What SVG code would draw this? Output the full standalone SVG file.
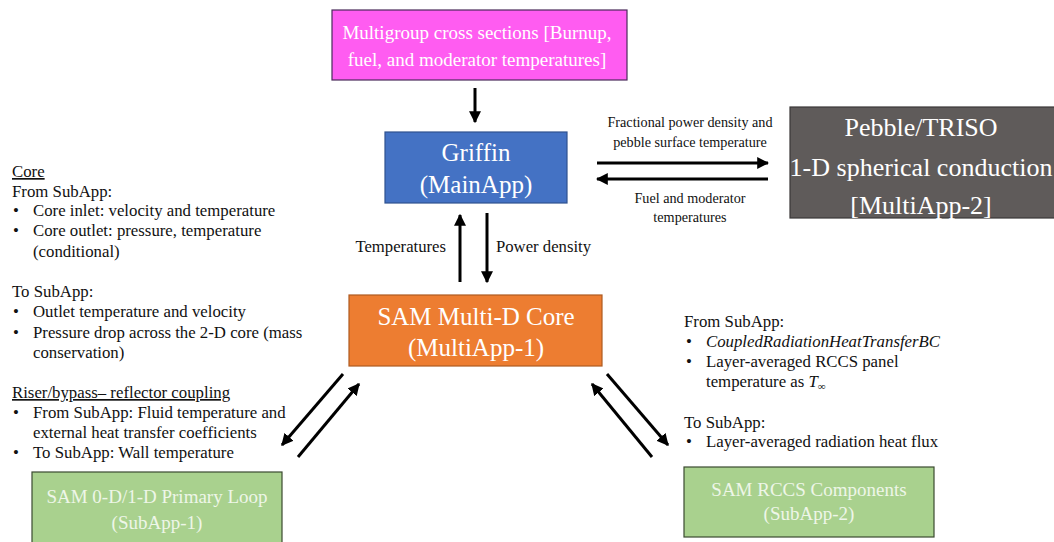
<svg xmlns="http://www.w3.org/2000/svg" width="1054" height="542" viewBox="0 0 1054 542">
<style>
text{font-family:"Liberation Serif","Times New Roman",serif;fill:#111}
.t{font-size:16.8px}
.m{font-size:16.7px}
.s{font-size:14.2px}
.bx{font-size:25px;fill:#fff;text-anchor:middle}
.bs{font-size:19px;fill:#fff;text-anchor:middle}
.g{font-size:19px;fill:#eef6e8;text-anchor:middle}
.c{stroke:#000;stroke-width:3;fill:none}
.u{text-decoration:underline}
</style>
<defs>
<marker id="ah" viewBox="0 0 10 10" refX="9" refY="5" markerWidth="4" markerHeight="4" orient="auto" markerUnits="strokeWidth">
<path d="M0,0 L10,5 L0,10 z" fill="#000"/>
</marker>
</defs>
<rect width="1054" height="542" fill="#fff"/>

<g id="xs">
<rect x="332" y="10" width="295" height="70" fill="#ff5cf1" stroke="#4a2a5a" stroke-width="1.2"/>
<text class="bs" x="477" y="39">Multigroup cross sections [Burnup,</text>
<text class="bs" x="477" y="66">fuel, and moderator temperatures]</text>
</g>

<g id="griffin">
<rect x="385" y="132" width="182" height="71" fill="#4472c4" stroke="#2f528f" stroke-width="1.2"/>
<text class="bx" x="476" y="161">Griffin</text>
<text class="bx" x="476" y="193">(MainApp)</text>
</g>

<g id="pebble">
<rect x="790" y="107" width="280" height="111" fill="#5f5b5a" stroke="#3a3838" stroke-width="1.2"/>
<text class="bx" x="921" y="136" style="font-size:26px">Pebble/TRISO</text>
<text class="bx" x="921" y="176" style="font-size:26px">1-D spherical conduction</text>
<text class="bx" x="921" y="214" style="font-size:26px">[MultiApp-2]</text>
</g>

<g id="sam">
<rect x="349" y="295" width="253" height="71" fill="#ed7d31" stroke="#ae5a21" stroke-width="1.2"/>
<text class="bx" x="476" y="325">SAM Multi-D Core</text>
<text class="bx" x="476" y="356">(MultiApp-1)</text>
</g>

<g id="primary">
<rect x="32" y="472" width="250" height="80" fill="#a9d18e" stroke="#3b4a30" stroke-width="1.2"/>
<text class="g" x="157" y="503">SAM 0-D/1-D Primary Loop</text>
<text class="g" x="157" y="529">(SubApp-1)</text>
</g>

<g id="rccs">
<rect x="684" y="467" width="250" height="70" fill="#a9d18e" stroke="#3b4a30" stroke-width="1.2"/>
<text class="g" x="809" y="496">SAM RCCS Components</text>
<text class="g" x="809" y="520">(SubApp-2)</text>
</g>

<g id="connectors">
<line class="c" x1="475" y1="88" x2="475" y2="122" marker-end="url(#ah)"/>
<line class="c" x1="460" y1="282" x2="460" y2="215" marker-end="url(#ah)"/>
<line class="c" x1="487" y1="213" x2="487" y2="282" marker-end="url(#ah)"/>
<line class="c" x1="597" y1="163" x2="768" y2="163" marker-end="url(#ah)"/>
<line class="c" x1="768" y1="179" x2="597" y2="179" marker-end="url(#ah)"/>
<line class="c" x1="343" y1="374" x2="282" y2="445" marker-end="url(#ah)"/>
<line class="c" x1="298" y1="457" x2="359" y2="384" marker-end="url(#ah)"/>
<line class="c" x1="607" y1="374" x2="668" y2="445" marker-end="url(#ah)"/>
<line class="c" x1="652" y1="457" x2="592" y2="384" marker-end="url(#ah)"/>
</g>

<g id="labels">
<text class="m" x="446" y="252" text-anchor="end">Temperatures</text>
<text class="m" x="496" y="252">Power density</text>
<text class="s" x="690" y="127" text-anchor="middle">Fractional power density and</text>
<text class="s" x="690" y="147" text-anchor="middle">pebble surface temperature</text>
<text class="s" x="690" y="203" text-anchor="middle">Fuel and moderator</text>
<text class="s" x="690" y="222" text-anchor="middle">temperatures</text>
</g>

<g id="core-notes">
<text class="t u" x="12" y="177">Core</text>
<text class="t" x="12" y="197">From SubApp:</text>
<text class="t" x="13" y="216">•</text><text class="t" x="33" y="216">Core inlet: velocity and temperature</text>
<text class="t" x="13" y="236">•</text><text class="t" x="33" y="236">Core outlet: pressure, temperature</text>
<text class="t" x="33" y="257">(conditional)</text>
<text class="t" x="12" y="297">To SubApp:</text>
<text class="t" x="13" y="317">•</text><text class="t" x="33" y="317">Outlet temperature and velocity</text>
<text class="t" x="13" y="338">•</text><text class="t" x="33" y="338">Pressure drop across the 2-D core (mass</text>
<text class="t" x="33" y="358">conservation)</text>
<text class="t u" x="12" y="398">Riser/bypass– reflector coupling</text>
<text class="t" x="13" y="418">•</text><text class="t" x="33" y="418">From SubApp: Fluid temperature and</text>
<text class="t" x="33" y="438">external heat transfer coefficients</text>
<text class="t" x="13" y="458">•</text><text class="t" x="33" y="458">To SubApp: Wall temperature</text>
</g>

<g id="rccs-notes">
<text class="t" x="684" y="327">From SubApp:</text>
<text class="t" x="686" y="347">•</text><text class="t" x="706" y="347" font-style="italic">CoupledRadiationHeatTransferBC</text>
<text class="t" x="686" y="367">•</text><text class="t" x="706" y="367">Layer-averaged RCCS panel</text>
<text class="t" x="706" y="387">temperature as <tspan font-style="italic">T</tspan><tspan font-size="11px" dy="3">∞</tspan></text>
<text class="t" x="684" y="428">To SubApp:</text>
<text class="t" x="686" y="447">•</text><text class="t" x="706" y="447">Layer-averaged radiation heat flux</text>
</g>
</svg>
